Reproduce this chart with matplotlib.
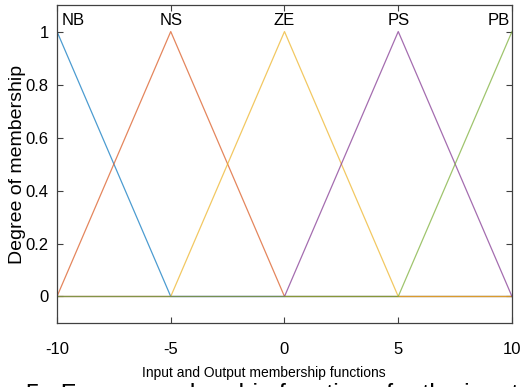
import numpy as np
import matplotlib
matplotlib.use("Agg")
import matplotlib.pyplot as plt

plt.rcParams['font.family'] = ['Liberation Sans', 'DejaVu Sans']

# membership functions: name, triangle params (a, b, c)
nomes = ['NB', 'NS', 'ZE', 'PS', 'PB']
params = [[-15, -10, -5], [-10, -5, 0], [-5, 0, 5], [0, 5, 10], [5, 10, 15]]
cores = ['#0072BD', '#D95319', '#EDB120', '#7E2F8E', '#77AC30']
x_ticks = [-10, -5, 0, 5, 10]
y_ticks = [0, 0.2, 0.4, 0.6, 0.8, 1]

x = np.linspace(-10, 10, 1001)


def trimf(x, a, b, c):
    esq = (x - a) / (b - a)
    dir_ = (c - x) / (c - b)
    return np.maximum(np.minimum(esq, dir_), 0)


fig = plt.figure(figsize=(5.2, 3.87), dpi=100)
ax = fig.add_axes([0.1096, 0.1654, 0.875, 0.8216])

for nome, p, cor in zip(nomes, params, cores):
    ax.plot(x, trimf(x, *p), color=cor, linewidth=0.9, alpha=0.7)

# rótulos das funções no topo
ax.text(-10 + 0.2, 1.04, nomes[0], ha='left', va='center', fontsize=12)
for nome, p in zip(nomes[1:-1], params[1:-1]):
    ax.text(p[1], 1.04, nome, ha='center', va='center', fontsize=12)
ax.text(10 - 0.1, 1.04, nomes[-1], ha='right', va='center', fontsize=12)

ax.set_xlim(-10, 10)
ax.set_ylim(-0.1, 1.1)
ax.set_xticks(x_ticks)
ax.set_xticklabels([str(t) for t in x_ticks])
ax.set_yticks(y_ticks)
ax.set_yticklabels(['0', '0.2', '0.4', '0.6', '0.8', '1'])
ax.tick_params(direction='in', top=True, right=True, labelsize=12,
               length=4, width=0.8, color='#404040')
ax.tick_params(axis='x', pad=14)
ax.tick_params(axis='y', pad=6)
for s in ax.spines.values():
    s.set_color('#404040')
    s.set_linewidth(0.9)

ax.set_xlabel('Input and Output membership functions', fontsize=10)
ax.xaxis.set_label_coords((264 - 57) / 455, -0.135)
ax.set_ylabel('Degree of membership', fontsize=14)
ax.yaxis.set_label_coords(-0.068, 0.5)

# legenda da figura, cortada na borda inferior
fig.text(26 / 520, 1 - 383 / 387, '5.  Fuzzy membership functions for the input and output',
         ha='left', va='top', fontsize=18)

fig.savefig('out.png', dpi=100)
